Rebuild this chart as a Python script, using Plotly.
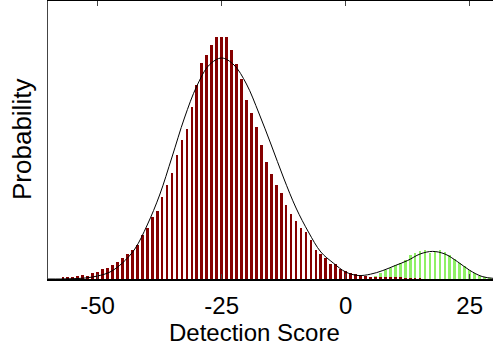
import plotly.graph_objects as go

# Histogram bin centres (Detection Score) and bar heights (relative probability)
red_x = list(range(-57, 16))
red_y = [1.5, 1.5, 1.5, 3, 4.5, 3.5, 6.5, 7.5, 10, 11, 14.5, 17, 21.5, 25, 29, 34,
         44, 51, 62, 68, 82, 94, 106, 124, 139, 150, 172, 194, 216, 224, 234, 242,
         242, 242, 229, 215, 200, 179, 166, 152, 134, 117, 105, 94, 86, 74, 65, 58,
         51, 47, 39, 29.5, 25, 21, 15.5, 15, 10, 8, 6, 5, 4, 3, 2.5, 1.5, 1.5, 1.2,
         1.2, 1.2, 1.2, 1, 1, 1, 1]

green_x = list(range(5, 30))
green_y = [2, 3, 6, 9, 11, 14, 16, 19, 24, 26, 28, 29, 26, 28, 29, 27, 24, 20, 16,
           13, 9, 6, 3, 2, 1]

# Fitted density curve
curve_x = [-60, -57.5, -55, -52.5, -50, -47.5, -45, -42.5, -40, -37.5, -35, -32.5,
           -30, -27.5, -25, -22.5, -20, -17.5, -15, -12.5, -10, -7.5, -5, -2.5, 0,
           2.5, 5, 7.5, 10, 12.5, 15, 17.5, 20, 22.5, 25, 27.5, 30]
curve_y = [0, 0, 0.3, 1, 3, 7, 16, 30, 54, 84, 122, 161, 193, 214, 221, 214, 195,
           166, 134, 101, 71, 47, 27, 16, 7, 3.5, 4.8, 8.5, 13.5, 18.5, 25, 27.6,
           25, 17.5, 8.7, 2.5, 0.5]

x_ticks = [-50, -25, 0, 25]
x_tick_text = ["-50", "-25", "0", "25"]

font_family = "Arial, Liberation Sans, sans-serif"
FS = 24

fig = go.Figure()
fig.add_trace(go.Bar(x=green_x, y=green_y, width=0.55, marker_color="#8FF066",
                     marker_line_width=0, showlegend=False))
fig.add_trace(go.Bar(x=red_x, y=red_y, width=0.55, marker_color="#850000",
                     marker_line_width=0, showlegend=False))
fig.add_trace(go.Scatter(x=curve_x, y=curve_y, mode="lines", line_shape="spline",
                         line=dict(color="black", width=1), showlegend=False))

fig.update_layout(
    width=493, height=355,
    margin=dict(l=48, r=0, t=1, b=76),
    paper_bgcolor="white", plot_bgcolor="white",
    barmode="overlay", bargap=0,
    font=dict(family=font_family, size=FS, color="black"),
    xaxis=dict(
        range=[-60, 29.7], tickvals=x_ticks, ticktext=x_tick_text,
        ticks="inside", ticklen=5, tickcolor="#444",
        showline=True, linecolor="black", linewidth=2, mirror="ticks",
        showgrid=False, zeroline=False, ticklabelstandoff=4,
        tickfont=dict(size=FS),
    ),
    yaxis=dict(
        range=[0, 278], showticklabels=False, ticks="",
        showline=True, linecolor="#444", linewidth=1, mirror=False,
        showgrid=False, zeroline=False,
    ),
    annotations=[
        dict(text="Detection Score", xref="paper", yref="paper",
             x=(254 - 48) / 445, y=-(332 - 279) / 278, xanchor="center",
             yanchor="middle", showarrow=False, font=dict(size=FS)),
        dict(text="Probability", xref="paper", yref="paper",
             x=-(48 - 22) / 445, y=0.5, xanchor="center", yanchor="middle",
             textangle=-90, showarrow=False, font=dict(size=26)),
    ],
)

fig.write_html("out.html", config={"displayModeBar": False},
               post_script="document.body.style.margin='0';")
